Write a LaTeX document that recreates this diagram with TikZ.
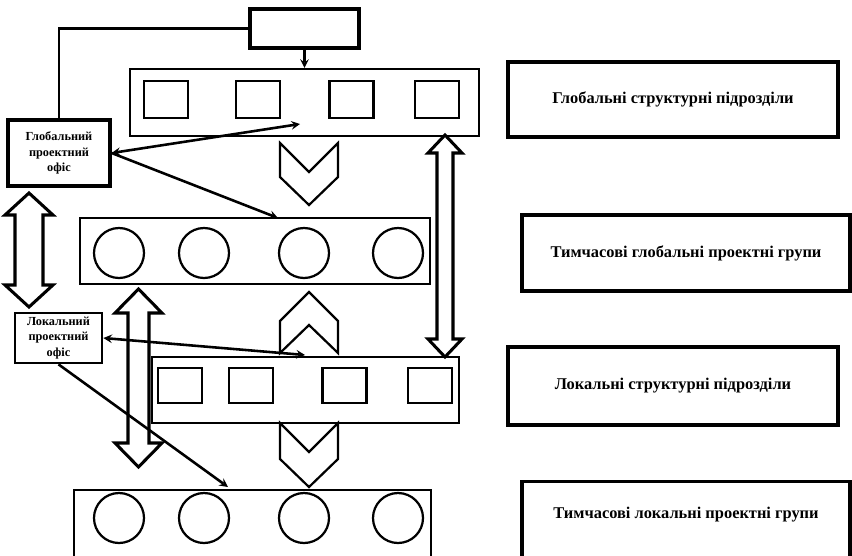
\documentclass[tikz,border=0pt]{standalone}
\usepackage{fontspec}
\setmainfont{Liberation Serif}
\usetikzlibrary{arrows,positioning}

% block double arrow: x, top, bottom, half head, half shaft, head length
\newcommand{\dblarrow}[6]{%
  \draw[blockarrow] (#1,#2) -- ({#1+#4},{#2+#6}) -- ({#1+#5},{#2+#6})
    -- ({#1+#5},{#3-#6}) -- ({#1+#4},{#3-#6}) -- (#1,#3)
    -- ({#1-#4},{#3-#6}) -- ({#1-#5},{#3-#6}) -- ({#1-#5},{#2+#6})
    -- ({#1-#4},{#2+#6}) -- cycle;}
% chevrons: x, top, bottom
\newcommand{\chevdown}[3]{%
  \draw[chevron] ({#1-29},#2) -- (#1,{#2+29}) -- ({#1+29},#2) -- ({#1+29},{#3-28})
    -- (#1,#3) -- ({#1-29},{#3-28}) -- cycle;}
\newcommand{\chevup}[3]{%
  \draw[chevron] ({#1-29},#3) -- (#1,{#3-28}) -- ({#1+29},#3) -- ({#1+29},{#2+29})
    -- (#1,#2) -- ({#1-29},{#2+29}) -- cycle;}

\begin{document}
\begin{tikzpicture}[
  x=0.03cm,
  y=-0.03cm,
  >=stealth,
  rowbox/.style={
    rectangle,
    draw=black,
    line width=1.8pt,
    inner sep=0pt
  },
  unit/.style={
    rectangle,
    draw=black,
    line width=1.9pt,
    minimum width=1.32cm,
    minimum height=1.11cm,
    inner sep=0pt
  },
  group/.style={
    circle,
    draw=black,
    line width=1.9pt,
    minimum size=1.5cm,
    inner sep=0pt
  },
  labelbox/.style={
    rectangle,
    draw=black,
    line width=2.6pt,
    minimum width=9.9cm,
    font=\fontsize{14}{16}\selectfont\bfseries,
    text centered
  },
  office/.style={
    rectangle,
    draw=black,
    line width=2.8pt,
    align=center,
    inner sep=1pt,
    font=\fontsize{10.5}{13.5}\selectfont\bfseries
  },
  link/.style={
    line width=2.2pt,
    draw=black
  },
  blockarrow/.style={
    line width=2.6pt,
    draw=black,
    line join=miter
  },
  chevron/.style={
    line width=1.9pt,
    draw=black
  }
]
\useasboundingbox (0,0) rectangle (852,555);
\clip (0,0) rectangle (852,555);

% Top box
\node[rectangle, draw=black, line width=2.8pt, minimum width=3.27cm, minimum height=1.17cm] (top) at (304.5,28.5) {};

% Global structural units
\node[rowbox, minimum width=10.47cm, minimum height=2.01cm] (grow) at (304.5,102.5) {};
\foreach \x [count=\i] in {166,258,351.5,437}
  \node[unit] (gu\i) at (\x,99.5) {};

% Temporary global project groups
\node[rowbox, minimum width=10.5cm, minimum height=1.98cm] (ggroups) at (255,251) {};
\foreach \x [count=\i] in {119,204,304,398}
  \node[group] (gg\i) at (\x,253) {};

% Local structural units
\node[rowbox, minimum width=9.21cm, minimum height=1.98cm] (lrow) at (305.5,390) {};
\foreach \x [count=\i] in {180,251,344.5,430}
  \node[unit, minimum height=1.05cm] (lu\i) at (\x,385.5) {};

% Temporary local project groups
\node[rowbox, anchor=north west, minimum width=10.71cm, minimum height=3cm] (lgroups) at (73,489) {};
\foreach \x [count=\i] in {119,204,304,398}
  \node[group] (lg\i) at (\x,518) {};

% Project offices
\node[office, minimum width=3.06cm, minimum height=1.98cm] (goffice) at (59,153) {Глобальний\\ проектний\\ офіс};
\node[office, line width=2.3pt, minimum width=2.61cm, minimum height=1.5cm] (loffice) at (58.5,338) {Локальний\\ проектний\\ офіс};

% Legend boxes
\node[labelbox, minimum height=2.25cm] (growlbl) at (673,99.5) {Глобальні структурні підрозділи};
\node[labelbox, minimum width=9.84cm, minimum height=2.28cm] (ggroupslbl) at (686,253) {Тимчасові глобальні проектні групи};
\node[labelbox, minimum height=2.34cm] (lrowlbl) at (673,386) {Локальні структурні підрозділи};
\node[labelbox, anchor=north, minimum width=9.84cm, inner ysep=0pt, text height=1.1cm, text depth=1.6cm] (lgroupslbl) at (686,480) {Тимчасові локальні проектні групи};

% Lines from top box
\draw[link] (top.west) -| (goffice.north);
\draw[link,->] (top.south) -- (grow.north -| top.south);

% Links of the offices
\coordinate (gtip) at (300,124);
\coordinate (ggtip) at (278,218);
\coordinate (ltip) at (305,355);
\coordinate (lgtip) at (228,487);
\draw[link,<->] (goffice.east) -- (gtip);
\draw[link,->] (goffice.east) -- (ggtip);
\draw[link,<->] (loffice.east) -- (ltip);
\draw[link,->] (loffice.south) -- (lgtip);

% Block arrows
\dblarrow{29}{193}{307}{24}{14}{22}
\dblarrow{445}{135}{357}{17}{8}{18}
\dblarrow{138.5}{289}{467}{23.5}{10.5}{24}

% Chevrons
\chevdown{309}{143}{205}
\chevup{309}{292}{353}
\chevdown{309}{423}{487}

\end{tikzpicture}
\end{document}
